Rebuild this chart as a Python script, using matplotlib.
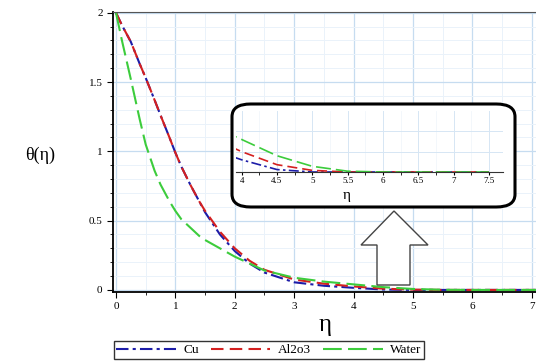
import matplotlib
matplotlib.use("Agg")
import matplotlib.pyplot as plt
from matplotlib.patches import FancyBboxPatch, Polygon
from matplotlib.ticker import MultipleLocator

# values
eta = [0, 0.1, 0.25, 0.4, 0.5, 0.65, 0.75, 0.9, 1, 1.1, 1.25, 1.4, 1.5, 1.75, 2,
       2.25, 2.5, 3, 3.5, 4, 4.5, 5, 5.5, 6, 7, 7.5]
theta_cu = [2.0, 1.91, 1.79, 1.63, 1.53, 1.37, 1.26, 1.10, 0.99, 0.89, 0.76, 0.64, 0.56, 0.40, 0.28,
            0.19, 0.125, 0.055, 0.03, 0.015, 0.003, 0.0, 0.0, 0.0, 0.0, 0.0]
theta_al2o3 = [2.0, 1.91, 1.79, 1.63, 1.53, 1.37, 1.26, 1.10, 0.99, 0.89, 0.76, 0.64, 0.57, 0.42, 0.30,
               0.21, 0.145, 0.075, 0.045, 0.025, 0.009, 0.002, 0.0, 0.0, 0.0, 0.0]
theta_water = [2.0, 1.80, 1.52, 1.23, 1.05, 0.86, 0.76, 0.64, 0.57, 0.51, 0.45, 0.39, 0.36, 0.30, 0.24,
               0.19, 0.14, 0.088, 0.06, 0.04, 0.02, 0.007, 0.001, 0.0, 0.0, 0.0]

x_ticks = [0, 1, 2, 3, 4, 5, 6, 7]
y_ticks = [0, 0.5, 1, 1.5, 2]
y_tick_labels = ["0", "0.5", "1", "1.5", "2"]
inset_ticks = [4, 4.5, 5, 5.5, 6, 6.5, 7, 7.5]

series = [
    ("Cu", theta_cu, "#1c1ca8", (0, (6, 2, 1.5, 2))),
    ("Al2o3", theta_al2o3, "#d42020", (0, (6, 3))),
    ("Water", theta_water, "#3ccc3c", (0, (9, 3))),
]

serif = "Liberation Serif"
W, H = 536, 362
fig = plt.figure(figsize=(W / 100, H / 100), dpi=100)


def px(x0, y0, x1, y1):
    # pixel box (from top-left) -> figure fraction [left, bottom, width, height]
    return [x0 / W, 1 - y1 / H, (x1 - x0) / W, (y1 - y0) / H]


ax = fig.add_axes(px(113, 12, 536, 292))
for name, vals, col, ls in series:
    ax.plot(eta, vals, color=col, linestyle=ls, lw=1.5, label=name)

ax.set_xlim(-0.05, 7.07)
ax.set_ylim(-0.015, 2.005)
ax.set_xticks(x_ticks)
ax.set_yticks(y_ticks)
ax.set_yticklabels(y_tick_labels)
ax.xaxis.set_minor_locator(MultipleLocator(0.5))
ax.yaxis.set_minor_locator(MultipleLocator(0.1))
ax.grid(which="major", color="#c6dcf0", lw=0.9)
ax.grid(which="minor", color="#eaf2fa", lw=0.7)
ax.set_axisbelow(True)
ax.spines["right"].set_visible(False)
ax.spines["top"].set_color("#555555")
ax.spines["left"].set_linewidth(1.3)
ax.spines["bottom"].set_linewidth(1.3)
ax.tick_params(which="major", length=4, labelsize=8)
ax.tick_params(which="minor", length=2.5)
for lab in ax.get_xticklabels() + ax.get_yticklabels():
    lab.set_fontfamily(serif)

fig.text(40 / W, 1 - 155 / H, "θ(η)", family=serif, fontsize=13, ha="center", va="center")
fig.text(325 / W, 1 - 325 / H, "η", family=serif, fontsize=18, ha="center", va="center")

fig.legend(loc="center", bbox_to_anchor=(269 / W, 1 - 350 / H), ncol=3,
           prop={"family": serif, "size": 9.5}, frameon=True, fancybox=False,
           edgecolor="black", handlelength=4.5, handletextpad=0.6,
           columnspacing=0.9, borderpad=0.2, borderaxespad=0)

# hollow arrow pointing at the zoom box
arrow = [(394, 211), (428, 245), (410, 245), (410, 285), (377, 285), (377, 245), (361, 245)]
arrow_fig = [(x / W, 1 - y / H) for x, y in arrow]
fig.patches.append(Polygon(arrow_fig, closed=True, facecolor="white", edgecolor="#444444",
                           lw=1.0, transform=fig.transFigure, zorder=5))

# rounded frame for the zoomed inset
box = px(232, 104, 515, 207)
fig.patches.append(FancyBboxPatch((box[0], box[1]), box[2], box[3],
                                  boxstyle="round,pad=0,rounding_size=0.035",
                                  facecolor="white", edgecolor="black", lw=2.2,
                                  transform=fig.transFigure, zorder=6))

ins = fig.add_axes(px(236, 111, 503, 172))
ins.set_zorder(7)
ins.patch.set_alpha(0)
for name, vals, col, ls in series:
    ins.plot(eta, vals, color=col, linestyle=ls, lw=1.2)
ins.set_xlim(3.92, 7.7)
ins.set_ylim(0, 0.075)
ins.set_xticks(inset_ticks)
ins.set_xticklabels([f"{t:g}" for t in inset_ticks], family=serif, fontsize=6.5)
ins.set_yticks([0.025, 0.05])
ins.set_yticklabels([])
ins.tick_params(axis="y", length=0)
ins.xaxis.set_minor_locator(MultipleLocator(0.25))
ins.grid(which="major", color="#d6e6f4", lw=0.7)
ins.grid(which="minor", axis="x", color="#eef4fa", lw=0.5)
for s in ["top", "right", "left"]:
    ins.spines[s].set_visible(False)
ins.spines["bottom"].set_color("#333333")
ins.tick_params(axis="x", length=2, pad=1.5)
fig.text(347 / W, 1 - 195 / H, "η", family=serif, fontsize=11, ha="center", va="center",
         zorder=8)

fig.savefig("out.png", dpi=100)
